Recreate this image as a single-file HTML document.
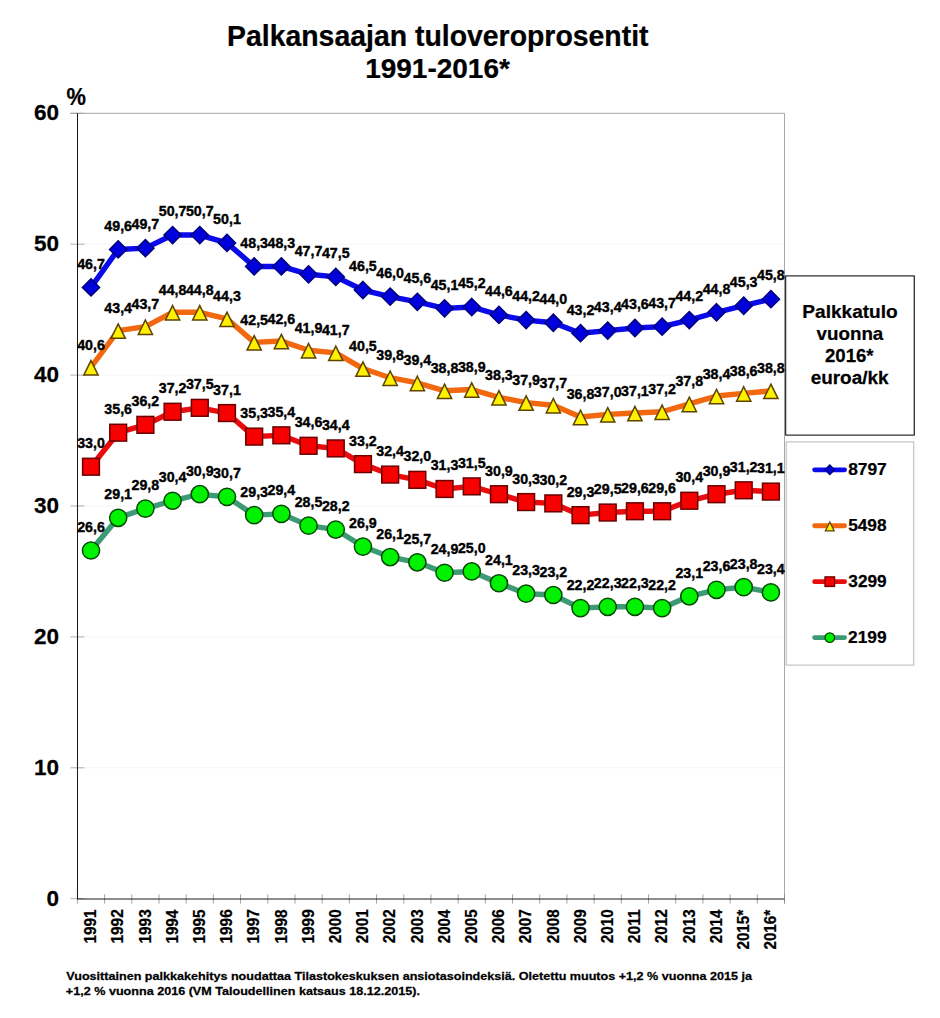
<!DOCTYPE html>
<html><head><meta charset="utf-8"><title>Palkansaajan tuloveroprosentit 1991-2016*</title>
<style>
html,body{margin:0;padding:0;background:#fff;}
body{width:940px;height:1018px;overflow:hidden;font-family:"Liberation Sans",sans-serif;}
svg{display:block;}
text{font-family:"Liberation Sans",sans-serif;font-weight:bold;fill:#000;stroke:#000;stroke-width:0.25px;stroke-linejoin:round;}
text.d{stroke-width:0.4px;}
</style></head><body>
<svg width="940" height="1018" viewBox="0 0 940 1018">
<rect width="940" height="1018" fill="#fff"/>
<text font-size="28.6" transform="translate(227.00 45.90) scale(0.9936 1)">Palkansaajan tuloveroprosentit</text>
<text font-size="28.3" transform="translate(365.14 78.00) scale(0.9894 1)">1991-2016*</text>
<line x1="77.4" x2="784.5" y1="767.80" y2="767.80" stroke="#f2f2f2" stroke-width="0.8"/>
<line x1="77.4" x2="784.5" y1="636.90" y2="636.90" stroke="#f2f2f2" stroke-width="0.8"/>
<line x1="77.4" x2="784.5" y1="506.00" y2="506.00" stroke="#f2f2f2" stroke-width="0.8"/>
<line x1="77.4" x2="784.5" y1="375.10" y2="375.10" stroke="#f2f2f2" stroke-width="0.8"/>
<line x1="77.4" x2="784.5" y1="244.20" y2="244.20" stroke="#f2f2f2" stroke-width="0.8"/>
<path d="M70.4 113.3H784.5V903.5" fill="none" stroke="#a8a8a8" stroke-width="1"/>
<line x1="70.4" x2="84.4" y1="898.70" y2="898.70" stroke="#9a9a9a" stroke-width="0.8"/>
<line x1="70.4" x2="84.4" y1="767.80" y2="767.80" stroke="#9a9a9a" stroke-width="0.8"/>
<line x1="70.4" x2="84.4" y1="636.90" y2="636.90" stroke="#9a9a9a" stroke-width="0.8"/>
<line x1="70.4" x2="84.4" y1="506.00" y2="506.00" stroke="#9a9a9a" stroke-width="0.8"/>
<line x1="70.4" x2="84.4" y1="375.10" y2="375.10" stroke="#9a9a9a" stroke-width="0.8"/>
<line x1="70.4" x2="84.4" y1="244.20" y2="244.20" stroke="#9a9a9a" stroke-width="0.8"/>
<line x1="70.4" x2="84.4" y1="113.30" y2="113.30" stroke="#9a9a9a" stroke-width="0.8"/>
<line x1="77.40" x2="77.40" y1="894.4" y2="903.6" stroke="#8c8c8c" stroke-width="0.8"/>
<line x1="104.60" x2="104.60" y1="894.4" y2="903.6" stroke="#8c8c8c" stroke-width="0.8"/>
<line x1="131.79" x2="131.79" y1="894.4" y2="903.6" stroke="#8c8c8c" stroke-width="0.8"/>
<line x1="158.99" x2="158.99" y1="894.4" y2="903.6" stroke="#8c8c8c" stroke-width="0.8"/>
<line x1="186.18" x2="186.18" y1="894.4" y2="903.6" stroke="#8c8c8c" stroke-width="0.8"/>
<line x1="213.38" x2="213.38" y1="894.4" y2="903.6" stroke="#8c8c8c" stroke-width="0.8"/>
<line x1="240.58" x2="240.58" y1="894.4" y2="903.6" stroke="#8c8c8c" stroke-width="0.8"/>
<line x1="267.77" x2="267.77" y1="894.4" y2="903.6" stroke="#8c8c8c" stroke-width="0.8"/>
<line x1="294.97" x2="294.97" y1="894.4" y2="903.6" stroke="#8c8c8c" stroke-width="0.8"/>
<line x1="322.17" x2="322.17" y1="894.4" y2="903.6" stroke="#8c8c8c" stroke-width="0.8"/>
<line x1="349.36" x2="349.36" y1="894.4" y2="903.6" stroke="#8c8c8c" stroke-width="0.8"/>
<line x1="376.56" x2="376.56" y1="894.4" y2="903.6" stroke="#8c8c8c" stroke-width="0.8"/>
<line x1="403.75" x2="403.75" y1="894.4" y2="903.6" stroke="#8c8c8c" stroke-width="0.8"/>
<line x1="430.95" x2="430.95" y1="894.4" y2="903.6" stroke="#8c8c8c" stroke-width="0.8"/>
<line x1="458.15" x2="458.15" y1="894.4" y2="903.6" stroke="#8c8c8c" stroke-width="0.8"/>
<line x1="485.34" x2="485.34" y1="894.4" y2="903.6" stroke="#8c8c8c" stroke-width="0.8"/>
<line x1="512.54" x2="512.54" y1="894.4" y2="903.6" stroke="#8c8c8c" stroke-width="0.8"/>
<line x1="539.73" x2="539.73" y1="894.4" y2="903.6" stroke="#8c8c8c" stroke-width="0.8"/>
<line x1="566.93" x2="566.93" y1="894.4" y2="903.6" stroke="#8c8c8c" stroke-width="0.8"/>
<line x1="594.13" x2="594.13" y1="894.4" y2="903.6" stroke="#8c8c8c" stroke-width="0.8"/>
<line x1="621.32" x2="621.32" y1="894.4" y2="903.6" stroke="#8c8c8c" stroke-width="0.8"/>
<line x1="648.52" x2="648.52" y1="894.4" y2="903.6" stroke="#8c8c8c" stroke-width="0.8"/>
<line x1="675.72" x2="675.72" y1="894.4" y2="903.6" stroke="#8c8c8c" stroke-width="0.8"/>
<line x1="702.91" x2="702.91" y1="894.4" y2="903.6" stroke="#8c8c8c" stroke-width="0.8"/>
<line x1="730.11" x2="730.11" y1="894.4" y2="903.6" stroke="#8c8c8c" stroke-width="0.8"/>
<line x1="757.30" x2="757.30" y1="894.4" y2="903.6" stroke="#8c8c8c" stroke-width="0.8"/>
<line x1="784.50" x2="784.50" y1="894.4" y2="903.6" stroke="#8c8c8c" stroke-width="0.8"/>
<path d="M77.5 113.3V899.0H784.5" fill="none" stroke="#1c1c1c" stroke-width="1.05"/>
<text font-size="23.2" transform="translate(66.45 105.00) scale(0.9413 1)">%</text>
<text font-size="22" transform="translate(46.50 905.70) scale(1.0243 1)">0</text>
<text font-size="22" transform="translate(33.97 774.80) scale(1.0243 1)">10</text>
<text font-size="22" transform="translate(33.97 643.90) scale(1.0243 1)">20</text>
<text font-size="22" transform="translate(33.97 513.00) scale(1.0243 1)">30</text>
<text font-size="22" transform="translate(33.97 382.10) scale(1.0243 1)">40</text>
<text font-size="22" transform="translate(33.97 251.20) scale(1.0243 1)">50</text>
<text font-size="22" transform="translate(33.97 120.30) scale(1.0243 1)">60</text>
<text font-size="15.6" transform="translate(96.30 943.57) rotate(-90) scale(0.9857 1)">1991</text>
<text font-size="15.6" transform="translate(123.49 943.57) rotate(-90) scale(0.9913 1)">1992</text>
<text font-size="15.6" transform="translate(150.69 943.57) rotate(-90) scale(0.9894 1)">1993</text>
<text font-size="15.6" transform="translate(177.89 943.56) rotate(-90) scale(0.9752 1)">1994</text>
<text font-size="15.6" transform="translate(205.08 943.57) rotate(-90) scale(0.9857 1)">1995</text>
<text font-size="15.6" transform="translate(232.28 943.57) rotate(-90) scale(0.9894 1)">1996</text>
<text font-size="15.6" transform="translate(259.48 943.58) rotate(-90) scale(0.9932 1)">1997</text>
<text font-size="15.6" transform="translate(286.67 943.57) rotate(-90) scale(0.9871 1)">1998</text>
<text font-size="15.6" transform="translate(313.87 943.57) rotate(-90) scale(0.9899 1)">1999</text>
<text font-size="15.6" transform="translate(341.06 943.13) rotate(-90) scale(0.9788 1)">2000</text>
<text font-size="15.6" transform="translate(368.26 943.13) rotate(-90) scale(0.9730 1)">2001</text>
<text font-size="15.6" transform="translate(395.46 943.13) rotate(-90) scale(0.9784 1)">2002</text>
<text font-size="15.6" transform="translate(422.65 943.13) rotate(-90) scale(0.9766 1)">2003</text>
<text font-size="15.6" transform="translate(449.85 943.13) rotate(-90) scale(0.9627 1)">2004</text>
<text font-size="15.6" transform="translate(477.04 943.13) rotate(-90) scale(0.9730 1)">2005</text>
<text font-size="15.6" transform="translate(504.24 943.13) rotate(-90) scale(0.9766 1)">2006</text>
<text font-size="15.6" transform="translate(531.44 943.14) rotate(-90) scale(0.9802 1)">2007</text>
<text font-size="15.6" transform="translate(558.63 943.13) rotate(-90) scale(0.9743 1)">2008</text>
<text font-size="15.6" transform="translate(585.83 943.13) rotate(-90) scale(0.9770 1)">2009</text>
<text font-size="15.6" transform="translate(613.02 943.13) rotate(-90) scale(0.9788 1)">2010</text>
<text font-size="15.6" transform="translate(640.22 943.15) rotate(-90) scale(0.9984 1)">2011</text>
<text font-size="15.6" transform="translate(667.42 943.13) rotate(-90) scale(0.9784 1)">2012</text>
<text font-size="15.6" transform="translate(694.61 943.13) rotate(-90) scale(0.9766 1)">2013</text>
<text font-size="15.6" transform="translate(721.81 943.13) rotate(-90) scale(0.9627 1)">2014</text>
<text font-size="15.6" transform="translate(749.01 949.53) rotate(-90) scale(0.9747 1)">2015*</text>
<text font-size="15.6" transform="translate(776.20 949.53) rotate(-90) scale(0.9747 1)">2016*</text>
<polyline points="91.00,287.40 118.19,249.44 145.39,248.13 172.59,235.04 199.78,235.04 226.98,242.89 254.18,266.45 281.37,266.45 308.57,274.31 335.76,276.92 362.96,290.01 390.16,296.56 417.35,301.80 444.55,308.34 471.74,307.03 498.94,314.89 526.14,320.12 553.33,322.74 580.53,333.21 607.73,330.59 634.92,327.98 662.12,326.67 689.31,320.12 716.51,312.27 743.71,305.72 770.90,299.18" fill="none" stroke="#0a0aea" stroke-width="5.4" stroke-linejoin="round"/>
<path d="M91.00 278.80L99.60 287.40L91.00 296.00L82.40 287.40Z" fill="#0000dc" stroke="#00007a" stroke-width="1.5"/>
<path d="M118.19 240.84L126.79 249.44L118.19 258.04L109.59 249.44Z" fill="#0000dc" stroke="#00007a" stroke-width="1.5"/>
<path d="M145.39 239.53L153.99 248.13L145.39 256.73L136.79 248.13Z" fill="#0000dc" stroke="#00007a" stroke-width="1.5"/>
<path d="M172.59 226.44L181.19 235.04L172.59 243.64L163.99 235.04Z" fill="#0000dc" stroke="#00007a" stroke-width="1.5"/>
<path d="M199.78 226.44L208.38 235.04L199.78 243.64L191.18 235.04Z" fill="#0000dc" stroke="#00007a" stroke-width="1.5"/>
<path d="M226.98 234.29L235.58 242.89L226.98 251.49L218.38 242.89Z" fill="#0000dc" stroke="#00007a" stroke-width="1.5"/>
<path d="M254.18 257.85L262.78 266.45L254.18 275.05L245.58 266.45Z" fill="#0000dc" stroke="#00007a" stroke-width="1.5"/>
<path d="M281.37 257.85L289.97 266.45L281.37 275.05L272.77 266.45Z" fill="#0000dc" stroke="#00007a" stroke-width="1.5"/>
<path d="M308.57 265.71L317.17 274.31L308.57 282.91L299.97 274.31Z" fill="#0000dc" stroke="#00007a" stroke-width="1.5"/>
<path d="M335.76 268.32L344.36 276.92L335.76 285.52L327.16 276.92Z" fill="#0000dc" stroke="#00007a" stroke-width="1.5"/>
<path d="M362.96 281.41L371.56 290.01L362.96 298.62L354.36 290.01Z" fill="#0000dc" stroke="#00007a" stroke-width="1.5"/>
<path d="M390.16 287.96L398.76 296.56L390.16 305.16L381.56 296.56Z" fill="#0000dc" stroke="#00007a" stroke-width="1.5"/>
<path d="M417.35 293.20L425.95 301.80L417.35 310.40L408.75 301.80Z" fill="#0000dc" stroke="#00007a" stroke-width="1.5"/>
<path d="M444.55 299.74L453.15 308.34L444.55 316.94L435.95 308.34Z" fill="#0000dc" stroke="#00007a" stroke-width="1.5"/>
<path d="M471.74 298.43L480.34 307.03L471.74 315.63L463.14 307.03Z" fill="#0000dc" stroke="#00007a" stroke-width="1.5"/>
<path d="M498.94 306.29L507.54 314.89L498.94 323.49L490.34 314.89Z" fill="#0000dc" stroke="#00007a" stroke-width="1.5"/>
<path d="M526.14 311.52L534.74 320.12L526.14 328.72L517.54 320.12Z" fill="#0000dc" stroke="#00007a" stroke-width="1.5"/>
<path d="M553.33 314.14L561.93 322.74L553.33 331.34L544.73 322.74Z" fill="#0000dc" stroke="#00007a" stroke-width="1.5"/>
<path d="M580.53 324.61L589.13 333.21L580.53 341.81L571.93 333.21Z" fill="#0000dc" stroke="#00007a" stroke-width="1.5"/>
<path d="M607.73 321.99L616.33 330.59L607.73 339.19L599.12 330.59Z" fill="#0000dc" stroke="#00007a" stroke-width="1.5"/>
<path d="M634.92 319.38L643.52 327.98L634.92 336.58L626.32 327.98Z" fill="#0000dc" stroke="#00007a" stroke-width="1.5"/>
<path d="M662.12 318.07L670.72 326.67L662.12 335.27L653.52 326.67Z" fill="#0000dc" stroke="#00007a" stroke-width="1.5"/>
<path d="M689.31 311.52L697.91 320.12L689.31 328.72L680.71 320.12Z" fill="#0000dc" stroke="#00007a" stroke-width="1.5"/>
<path d="M716.51 303.67L725.11 312.27L716.51 320.87L707.91 312.27Z" fill="#0000dc" stroke="#00007a" stroke-width="1.5"/>
<path d="M743.71 297.12L752.31 305.72L743.71 314.32L735.11 305.72Z" fill="#0000dc" stroke="#00007a" stroke-width="1.5"/>
<path d="M770.90 290.58L779.50 299.18L770.90 307.78L762.30 299.18Z" fill="#0000dc" stroke="#00007a" stroke-width="1.5"/>
<polyline points="91.00,367.25 118.19,330.59 145.39,326.67 172.59,312.27 199.78,312.27 226.98,318.81 254.18,342.38 281.37,341.07 308.57,350.23 335.76,352.85 362.96,368.55 390.16,377.72 417.35,382.95 444.55,390.81 471.74,389.50 498.94,397.35 526.14,402.59 553.33,405.21 580.53,416.99 607.73,414.37 634.92,413.06 662.12,411.75 689.31,403.90 716.51,396.04 743.71,393.43 770.90,390.81" fill="none" stroke="#f2680f" stroke-width="5.4" stroke-linejoin="round"/>
<path d="M91.00 360.55L98.12 374.99L83.87 374.99Z" fill="#fff000" stroke="#5e4200" stroke-width="1.5" stroke-linejoin="miter"/>
<path d="M118.19 323.90L125.32 338.34L111.07 338.34Z" fill="#fff000" stroke="#5e4200" stroke-width="1.5" stroke-linejoin="miter"/>
<path d="M145.39 319.97L152.52 334.41L138.27 334.41Z" fill="#fff000" stroke="#5e4200" stroke-width="1.5" stroke-linejoin="miter"/>
<path d="M172.59 305.57L179.71 320.02L165.46 320.02Z" fill="#fff000" stroke="#5e4200" stroke-width="1.5" stroke-linejoin="miter"/>
<path d="M199.78 305.57L206.91 320.02L192.66 320.02Z" fill="#fff000" stroke="#5e4200" stroke-width="1.5" stroke-linejoin="miter"/>
<path d="M226.98 312.12L234.10 326.56L219.85 326.56Z" fill="#fff000" stroke="#5e4200" stroke-width="1.5" stroke-linejoin="miter"/>
<path d="M254.18 335.68L261.30 350.12L247.05 350.12Z" fill="#fff000" stroke="#5e4200" stroke-width="1.5" stroke-linejoin="miter"/>
<path d="M281.37 334.37L288.50 348.81L274.25 348.81Z" fill="#fff000" stroke="#5e4200" stroke-width="1.5" stroke-linejoin="miter"/>
<path d="M308.57 343.53L315.69 357.98L301.44 357.98Z" fill="#fff000" stroke="#5e4200" stroke-width="1.5" stroke-linejoin="miter"/>
<path d="M335.76 346.15L342.89 360.59L328.64 360.59Z" fill="#fff000" stroke="#5e4200" stroke-width="1.5" stroke-linejoin="miter"/>
<path d="M362.96 361.86L370.08 376.30L355.83 376.30Z" fill="#fff000" stroke="#5e4200" stroke-width="1.5" stroke-linejoin="miter"/>
<path d="M390.16 371.02L397.28 385.47L383.03 385.47Z" fill="#fff000" stroke="#5e4200" stroke-width="1.5" stroke-linejoin="miter"/>
<path d="M417.35 376.26L424.48 390.70L410.23 390.70Z" fill="#fff000" stroke="#5e4200" stroke-width="1.5" stroke-linejoin="miter"/>
<path d="M444.55 384.11L451.67 398.56L437.42 398.56Z" fill="#fff000" stroke="#5e4200" stroke-width="1.5" stroke-linejoin="miter"/>
<path d="M471.74 382.80L478.87 397.25L464.62 397.25Z" fill="#fff000" stroke="#5e4200" stroke-width="1.5" stroke-linejoin="miter"/>
<path d="M498.94 390.66L506.07 405.10L491.82 405.10Z" fill="#fff000" stroke="#5e4200" stroke-width="1.5" stroke-linejoin="miter"/>
<path d="M526.14 395.89L533.26 410.34L519.01 410.34Z" fill="#fff000" stroke="#5e4200" stroke-width="1.5" stroke-linejoin="miter"/>
<path d="M553.33 398.51L560.46 412.95L546.21 412.95Z" fill="#fff000" stroke="#5e4200" stroke-width="1.5" stroke-linejoin="miter"/>
<path d="M580.53 410.29L587.65 424.74L573.40 424.74Z" fill="#fff000" stroke="#5e4200" stroke-width="1.5" stroke-linejoin="miter"/>
<path d="M607.73 407.67L614.85 422.12L600.60 422.12Z" fill="#fff000" stroke="#5e4200" stroke-width="1.5" stroke-linejoin="miter"/>
<path d="M634.92 406.36L642.05 420.81L627.80 420.81Z" fill="#fff000" stroke="#5e4200" stroke-width="1.5" stroke-linejoin="miter"/>
<path d="M662.12 405.05L669.24 419.50L654.99 419.50Z" fill="#fff000" stroke="#5e4200" stroke-width="1.5" stroke-linejoin="miter"/>
<path d="M689.31 397.20L696.44 411.65L682.19 411.65Z" fill="#fff000" stroke="#5e4200" stroke-width="1.5" stroke-linejoin="miter"/>
<path d="M716.51 389.35L723.63 403.79L709.38 403.79Z" fill="#fff000" stroke="#5e4200" stroke-width="1.5" stroke-linejoin="miter"/>
<path d="M743.71 386.73L750.83 401.17L736.58 401.17Z" fill="#fff000" stroke="#5e4200" stroke-width="1.5" stroke-linejoin="miter"/>
<path d="M770.90 384.11L778.03 398.56L763.78 398.56Z" fill="#fff000" stroke="#5e4200" stroke-width="1.5" stroke-linejoin="miter"/>
<polyline points="91.00,466.73 118.19,432.70 145.39,424.84 172.59,411.75 199.78,407.82 226.98,413.06 254.18,436.62 281.37,435.31 308.57,445.79 335.76,448.40 362.96,464.11 390.16,474.58 417.35,479.82 444.55,488.98 471.74,486.37 498.94,494.22 526.14,502.07 553.33,503.38 580.53,515.16 607.73,512.55 634.92,511.24 662.12,511.24 689.31,500.76 716.51,494.22 743.71,490.29 770.90,491.60" fill="none" stroke="#ea0c0c" stroke-width="5.4" stroke-linejoin="round"/>
<rect x="82.60" y="458.33" width="16.80" height="16.80" fill="#f60000" stroke="#6a0000" stroke-width="1.5"/>
<rect x="109.79" y="424.30" width="16.80" height="16.80" fill="#f60000" stroke="#6a0000" stroke-width="1.5"/>
<rect x="136.99" y="416.44" width="16.80" height="16.80" fill="#f60000" stroke="#6a0000" stroke-width="1.5"/>
<rect x="164.19" y="403.35" width="16.80" height="16.80" fill="#f60000" stroke="#6a0000" stroke-width="1.5"/>
<rect x="191.38" y="399.43" width="16.80" height="16.80" fill="#f60000" stroke="#6a0000" stroke-width="1.5"/>
<rect x="218.58" y="404.66" width="16.80" height="16.80" fill="#f60000" stroke="#6a0000" stroke-width="1.5"/>
<rect x="245.78" y="428.22" width="16.80" height="16.80" fill="#f60000" stroke="#6a0000" stroke-width="1.5"/>
<rect x="272.97" y="426.91" width="16.80" height="16.80" fill="#f60000" stroke="#6a0000" stroke-width="1.5"/>
<rect x="300.17" y="437.39" width="16.80" height="16.80" fill="#f60000" stroke="#6a0000" stroke-width="1.5"/>
<rect x="327.36" y="440.00" width="16.80" height="16.80" fill="#f60000" stroke="#6a0000" stroke-width="1.5"/>
<rect x="354.56" y="455.71" width="16.80" height="16.80" fill="#f60000" stroke="#6a0000" stroke-width="1.5"/>
<rect x="381.76" y="466.18" width="16.80" height="16.80" fill="#f60000" stroke="#6a0000" stroke-width="1.5"/>
<rect x="408.95" y="471.42" width="16.80" height="16.80" fill="#f60000" stroke="#6a0000" stroke-width="1.5"/>
<rect x="436.15" y="480.58" width="16.80" height="16.80" fill="#f60000" stroke="#6a0000" stroke-width="1.5"/>
<rect x="463.34" y="477.97" width="16.80" height="16.80" fill="#f60000" stroke="#6a0000" stroke-width="1.5"/>
<rect x="490.54" y="485.82" width="16.80" height="16.80" fill="#f60000" stroke="#6a0000" stroke-width="1.5"/>
<rect x="517.74" y="493.67" width="16.80" height="16.80" fill="#f60000" stroke="#6a0000" stroke-width="1.5"/>
<rect x="544.93" y="494.98" width="16.80" height="16.80" fill="#f60000" stroke="#6a0000" stroke-width="1.5"/>
<rect x="572.13" y="506.76" width="16.80" height="16.80" fill="#f60000" stroke="#6a0000" stroke-width="1.5"/>
<rect x="599.33" y="504.15" width="16.80" height="16.80" fill="#f60000" stroke="#6a0000" stroke-width="1.5"/>
<rect x="626.52" y="502.84" width="16.80" height="16.80" fill="#f60000" stroke="#6a0000" stroke-width="1.5"/>
<rect x="653.72" y="502.84" width="16.80" height="16.80" fill="#f60000" stroke="#6a0000" stroke-width="1.5"/>
<rect x="680.91" y="492.36" width="16.80" height="16.80" fill="#f60000" stroke="#6a0000" stroke-width="1.5"/>
<rect x="708.11" y="485.82" width="16.80" height="16.80" fill="#f60000" stroke="#6a0000" stroke-width="1.5"/>
<rect x="735.31" y="481.89" width="16.80" height="16.80" fill="#f60000" stroke="#6a0000" stroke-width="1.5"/>
<rect x="762.50" y="483.20" width="16.80" height="16.80" fill="#f60000" stroke="#6a0000" stroke-width="1.5"/>
<polyline points="91.00,550.51 118.19,517.78 145.39,508.62 172.59,500.76 199.78,494.22 226.98,496.84 254.18,515.16 281.37,513.85 308.57,525.63 335.76,529.56 362.96,546.58 390.16,557.05 417.35,562.29 444.55,572.76 471.74,571.45 498.94,583.23 526.14,593.70 553.33,595.01 580.53,608.10 607.73,606.79 634.92,606.79 662.12,608.10 689.31,596.32 716.51,589.78 743.71,587.16 770.90,592.39" fill="none" stroke="#3c9a75" stroke-width="5.4" stroke-linejoin="round"/>
<circle cx="91.00" cy="550.51" r="8.60" fill="#00f200" stroke="#004a00" stroke-width="1.5"/>
<circle cx="118.19" cy="517.78" r="8.60" fill="#00f200" stroke="#004a00" stroke-width="1.5"/>
<circle cx="145.39" cy="508.62" r="8.60" fill="#00f200" stroke="#004a00" stroke-width="1.5"/>
<circle cx="172.59" cy="500.76" r="8.60" fill="#00f200" stroke="#004a00" stroke-width="1.5"/>
<circle cx="199.78" cy="494.22" r="8.60" fill="#00f200" stroke="#004a00" stroke-width="1.5"/>
<circle cx="226.98" cy="496.84" r="8.60" fill="#00f200" stroke="#004a00" stroke-width="1.5"/>
<circle cx="254.18" cy="515.16" r="8.60" fill="#00f200" stroke="#004a00" stroke-width="1.5"/>
<circle cx="281.37" cy="513.85" r="8.60" fill="#00f200" stroke="#004a00" stroke-width="1.5"/>
<circle cx="308.57" cy="525.63" r="8.60" fill="#00f200" stroke="#004a00" stroke-width="1.5"/>
<circle cx="335.76" cy="529.56" r="8.60" fill="#00f200" stroke="#004a00" stroke-width="1.5"/>
<circle cx="362.96" cy="546.58" r="8.60" fill="#00f200" stroke="#004a00" stroke-width="1.5"/>
<circle cx="390.16" cy="557.05" r="8.60" fill="#00f200" stroke="#004a00" stroke-width="1.5"/>
<circle cx="417.35" cy="562.29" r="8.60" fill="#00f200" stroke="#004a00" stroke-width="1.5"/>
<circle cx="444.55" cy="572.76" r="8.60" fill="#00f200" stroke="#004a00" stroke-width="1.5"/>
<circle cx="471.74" cy="571.45" r="8.60" fill="#00f200" stroke="#004a00" stroke-width="1.5"/>
<circle cx="498.94" cy="583.23" r="8.60" fill="#00f200" stroke="#004a00" stroke-width="1.5"/>
<circle cx="526.14" cy="593.70" r="8.60" fill="#00f200" stroke="#004a00" stroke-width="1.5"/>
<circle cx="553.33" cy="595.01" r="8.60" fill="#00f200" stroke="#004a00" stroke-width="1.5"/>
<circle cx="580.53" cy="608.10" r="8.60" fill="#00f200" stroke="#004a00" stroke-width="1.5"/>
<circle cx="607.73" cy="606.79" r="8.60" fill="#00f200" stroke="#004a00" stroke-width="1.5"/>
<circle cx="634.92" cy="606.79" r="8.60" fill="#00f200" stroke="#004a00" stroke-width="1.5"/>
<circle cx="662.12" cy="608.10" r="8.60" fill="#00f200" stroke="#004a00" stroke-width="1.5"/>
<circle cx="689.31" cy="596.32" r="8.60" fill="#00f200" stroke="#004a00" stroke-width="1.5"/>
<circle cx="716.51" cy="589.78" r="8.60" fill="#00f200" stroke="#004a00" stroke-width="1.5"/>
<circle cx="743.71" cy="587.16" r="8.60" fill="#00f200" stroke="#004a00" stroke-width="1.5"/>
<circle cx="770.90" cy="592.39" r="8.60" fill="#00f200" stroke="#004a00" stroke-width="1.5"/>
<text class="d" font-size="15.0" transform="translate(77.13 268.70) scale(0.9499 1)">46,7</text>
<text class="d" font-size="15.0" transform="translate(104.33 230.74) scale(0.9499 1)">49,6</text>
<text class="d" font-size="15.0" transform="translate(131.52 229.43) scale(0.9499 1)">49,7</text>
<text class="d" font-size="15.0" transform="translate(158.72 216.34) scale(0.9499 1)">50,7</text>
<text class="d" font-size="15.0" transform="translate(185.92 216.34) scale(0.9499 1)">50,7</text>
<text class="d" font-size="15.0" transform="translate(213.11 224.19) scale(0.9499 1)">50,1</text>
<text class="d" font-size="15.0" transform="translate(240.31 247.75) scale(0.9499 1)">48,3</text>
<text class="d" font-size="15.0" transform="translate(267.51 247.75) scale(0.9499 1)">48,3</text>
<text class="d" font-size="15.0" transform="translate(294.70 255.61) scale(0.9499 1)">47,7</text>
<text class="d" font-size="15.0" transform="translate(321.90 258.22) scale(0.9499 1)">47,5</text>
<text class="d" font-size="15.0" transform="translate(349.09 271.31) scale(0.9499 1)">46,5</text>
<text class="d" font-size="15.0" transform="translate(376.29 277.86) scale(0.9499 1)">46,0</text>
<text class="d" font-size="15.0" transform="translate(403.49 283.10) scale(0.9499 1)">45,6</text>
<text class="d" font-size="15.0" transform="translate(430.68 289.64) scale(0.9499 1)">45,1</text>
<text class="d" font-size="15.0" transform="translate(457.88 288.33) scale(0.9499 1)">45,2</text>
<text class="d" font-size="15.0" transform="translate(485.07 296.19) scale(0.9499 1)">44,6</text>
<text class="d" font-size="15.0" transform="translate(512.27 301.42) scale(0.9499 1)">44,2</text>
<text class="d" font-size="15.0" transform="translate(539.47 304.04) scale(0.9499 1)">44,0</text>
<text class="d" font-size="15.0" transform="translate(566.66 314.51) scale(0.9499 1)">43,2</text>
<text class="d" font-size="15.0" transform="translate(593.86 311.89) scale(0.9499 1)">43,4</text>
<text class="d" font-size="15.0" transform="translate(621.06 309.28) scale(0.9499 1)">43,6</text>
<text class="d" font-size="15.0" transform="translate(648.25 307.97) scale(0.9499 1)">43,7</text>
<text class="d" font-size="15.0" transform="translate(675.45 301.42) scale(0.9499 1)">44,2</text>
<text class="d" font-size="15.0" transform="translate(702.64 293.57) scale(0.9499 1)">44,8</text>
<text class="d" font-size="15.0" transform="translate(729.84 287.02) scale(0.9499 1)">45,3</text>
<text class="d" font-size="15.0" transform="translate(757.04 280.48) scale(0.9499 1)">45,8</text>
<text class="d" font-size="15.0" transform="translate(77.13 349.75) scale(0.9499 1)">40,6</text>
<text class="d" font-size="15.0" transform="translate(104.33 313.09) scale(0.9499 1)">43,4</text>
<text class="d" font-size="15.0" transform="translate(131.52 309.17) scale(0.9499 1)">43,7</text>
<text class="d" font-size="15.0" transform="translate(158.72 294.77) scale(0.9499 1)">44,8</text>
<text class="d" font-size="15.0" transform="translate(185.92 294.77) scale(0.9499 1)">44,8</text>
<text class="d" font-size="15.0" transform="translate(213.11 301.31) scale(0.9499 1)">44,3</text>
<text class="d" font-size="15.0" transform="translate(240.31 324.88) scale(0.9499 1)">42,5</text>
<text class="d" font-size="15.0" transform="translate(267.51 323.57) scale(0.9499 1)">42,6</text>
<text class="d" font-size="15.0" transform="translate(294.70 332.73) scale(0.9499 1)">41,9</text>
<text class="d" font-size="15.0" transform="translate(321.90 335.35) scale(0.9499 1)">41,7</text>
<text class="d" font-size="15.0" transform="translate(349.09 351.05) scale(0.9499 1)">40,5</text>
<text class="d" font-size="15.0" transform="translate(376.29 360.22) scale(0.9499 1)">39,8</text>
<text class="d" font-size="15.0" transform="translate(403.49 365.45) scale(0.9499 1)">39,4</text>
<text class="d" font-size="15.0" transform="translate(430.68 373.31) scale(0.9499 1)">38,8</text>
<text class="d" font-size="15.0" transform="translate(457.88 372.00) scale(0.9499 1)">38,9</text>
<text class="d" font-size="15.0" transform="translate(485.07 379.85) scale(0.9499 1)">38,3</text>
<text class="d" font-size="15.0" transform="translate(512.27 385.09) scale(0.9499 1)">37,9</text>
<text class="d" font-size="15.0" transform="translate(539.47 387.71) scale(0.9499 1)">37,7</text>
<text class="d" font-size="15.0" transform="translate(566.66 399.49) scale(0.9499 1)">36,8</text>
<text class="d" font-size="15.0" transform="translate(593.86 396.87) scale(0.9499 1)">37,0</text>
<text class="d" font-size="15.0" transform="translate(621.06 395.56) scale(0.9499 1)">37,1</text>
<text class="d" font-size="15.0" transform="translate(648.25 394.25) scale(0.9499 1)">37,2</text>
<text class="d" font-size="15.0" transform="translate(675.45 386.40) scale(0.9499 1)">37,8</text>
<text class="d" font-size="15.0" transform="translate(702.64 378.54) scale(0.9499 1)">38,4</text>
<text class="d" font-size="15.0" transform="translate(729.84 375.93) scale(0.9499 1)">38,6</text>
<text class="d" font-size="15.0" transform="translate(757.04 373.31) scale(0.9499 1)">38,8</text>
<text class="d" font-size="15.0" transform="translate(77.13 448.23) scale(0.9499 1)">33,0</text>
<text class="d" font-size="15.0" transform="translate(104.33 414.20) scale(0.9499 1)">35,6</text>
<text class="d" font-size="15.0" transform="translate(131.52 406.34) scale(0.9499 1)">36,2</text>
<text class="d" font-size="15.0" transform="translate(158.72 393.25) scale(0.9499 1)">37,2</text>
<text class="d" font-size="15.0" transform="translate(185.92 389.32) scale(0.9499 1)">37,5</text>
<text class="d" font-size="15.0" transform="translate(213.11 394.56) scale(0.9499 1)">37,1</text>
<text class="d" font-size="15.0" transform="translate(240.31 418.12) scale(0.9499 1)">35,3</text>
<text class="d" font-size="15.0" transform="translate(267.51 416.81) scale(0.9499 1)">35,4</text>
<text class="d" font-size="15.0" transform="translate(294.70 427.29) scale(0.9499 1)">34,6</text>
<text class="d" font-size="15.0" transform="translate(321.90 429.90) scale(0.9499 1)">34,4</text>
<text class="d" font-size="15.0" transform="translate(349.09 445.61) scale(0.9499 1)">33,2</text>
<text class="d" font-size="15.0" transform="translate(376.29 456.08) scale(0.9499 1)">32,4</text>
<text class="d" font-size="15.0" transform="translate(403.49 461.32) scale(0.9499 1)">32,0</text>
<text class="d" font-size="15.0" transform="translate(430.68 470.48) scale(0.9499 1)">31,3</text>
<text class="d" font-size="15.0" transform="translate(457.88 467.87) scale(0.9499 1)">31,5</text>
<text class="d" font-size="15.0" transform="translate(485.07 475.72) scale(0.9499 1)">30,9</text>
<text class="d" font-size="15.0" transform="translate(512.27 483.57) scale(0.9499 1)">30,3</text>
<text class="d" font-size="15.0" transform="translate(539.47 484.88) scale(0.9499 1)">30,2</text>
<text class="d" font-size="15.0" transform="translate(566.66 496.66) scale(0.9499 1)">29,3</text>
<text class="d" font-size="15.0" transform="translate(593.86 494.05) scale(0.9499 1)">29,5</text>
<text class="d" font-size="15.0" transform="translate(621.06 492.74) scale(0.9499 1)">29,6</text>
<text class="d" font-size="15.0" transform="translate(648.25 492.74) scale(0.9499 1)">29,6</text>
<text class="d" font-size="15.0" transform="translate(675.45 482.26) scale(0.9499 1)">30,4</text>
<text class="d" font-size="15.0" transform="translate(702.64 475.72) scale(0.9499 1)">30,9</text>
<text class="d" font-size="15.0" transform="translate(729.84 471.79) scale(0.9499 1)">31,2</text>
<text class="d" font-size="15.0" transform="translate(757.04 473.10) scale(0.9499 1)">31,1</text>
<text class="d" font-size="15.0" transform="translate(77.13 532.01) scale(0.9499 1)">26,6</text>
<text class="d" font-size="15.0" transform="translate(104.33 499.28) scale(0.9499 1)">29,1</text>
<text class="d" font-size="15.0" transform="translate(131.52 490.12) scale(0.9499 1)">29,8</text>
<text class="d" font-size="15.0" transform="translate(158.72 482.26) scale(0.9499 1)">30,4</text>
<text class="d" font-size="15.0" transform="translate(185.92 475.72) scale(0.9499 1)">30,9</text>
<text class="d" font-size="15.0" transform="translate(213.11 478.34) scale(0.9499 1)">30,7</text>
<text class="d" font-size="15.0" transform="translate(240.31 496.66) scale(0.9499 1)">29,3</text>
<text class="d" font-size="15.0" transform="translate(267.51 495.35) scale(0.9499 1)">29,4</text>
<text class="d" font-size="15.0" transform="translate(294.70 507.13) scale(0.9499 1)">28,5</text>
<text class="d" font-size="15.0" transform="translate(321.90 511.06) scale(0.9499 1)">28,2</text>
<text class="d" font-size="15.0" transform="translate(349.09 528.08) scale(0.9499 1)">26,9</text>
<text class="d" font-size="15.0" transform="translate(376.29 538.55) scale(0.9499 1)">26,1</text>
<text class="d" font-size="15.0" transform="translate(403.49 543.79) scale(0.9499 1)">25,7</text>
<text class="d" font-size="15.0" transform="translate(430.68 554.26) scale(0.9499 1)">24,9</text>
<text class="d" font-size="15.0" transform="translate(457.88 552.95) scale(0.9499 1)">25,0</text>
<text class="d" font-size="15.0" transform="translate(485.07 564.73) scale(0.9499 1)">24,1</text>
<text class="d" font-size="15.0" transform="translate(512.27 575.20) scale(0.9499 1)">23,3</text>
<text class="d" font-size="15.0" transform="translate(539.47 576.51) scale(0.9499 1)">23,2</text>
<text class="d" font-size="15.0" transform="translate(566.66 589.60) scale(0.9499 1)">22,2</text>
<text class="d" font-size="15.0" transform="translate(593.86 588.29) scale(0.9499 1)">22,3</text>
<text class="d" font-size="15.0" transform="translate(621.06 588.29) scale(0.9499 1)">22,3</text>
<text class="d" font-size="15.0" transform="translate(648.25 589.60) scale(0.9499 1)">22,2</text>
<text class="d" font-size="15.0" transform="translate(675.45 577.82) scale(0.9499 1)">23,1</text>
<text class="d" font-size="15.0" transform="translate(702.64 571.28) scale(0.9499 1)">23,6</text>
<text class="d" font-size="15.0" transform="translate(729.84 568.66) scale(0.9499 1)">23,8</text>
<text class="d" font-size="15.0" transform="translate(757.04 573.89) scale(0.9499 1)">23,4</text>
<rect x="785.6" y="275.9" width="128.7" height="159.2" fill="#fff" stroke="#333" stroke-width="1.35" stroke-linejoin="round"/>
<text font-size="19.2" transform="translate(802.32 318.35) scale(0.9936 1)">Palkkatulo</text>
<text font-size="19.2" transform="translate(816.62 340.35) scale(0.9778 1)">vuonna</text>
<text font-size="19.2" transform="translate(824.95 362.35) scale(0.9697 1)">2016*</text>
<text font-size="19.2" transform="translate(810.66 384.35) scale(0.9867 1)">euroa/kk</text>
<rect x="786.2" y="441.9" width="127.5" height="223.2" fill="#fff" stroke="#bdbdbd" stroke-width="1.1"/>
<line x1="814.6" x2="844.6" y1="469.80" y2="469.80" stroke="#0a0aea" stroke-width="4.8" stroke-linecap="round"/>
<path d="M829.80 465.00L834.60 469.80L829.80 474.60L825.00 469.80Z" fill="#0000dc" stroke="#00007a" stroke-width="1.3"/>
<text font-size="17" transform="translate(848.14 475.10) scale(1.0215 1)">8797</text>
<line x1="814.6" x2="844.6" y1="525.73" y2="525.73" stroke="#f2680f" stroke-width="4.8" stroke-linecap="round"/>
<path d="M829.80 521.92L834.17 530.78L825.43 530.78Z" fill="#fff000" stroke="#5e4200" stroke-width="1.3" stroke-linejoin="miter"/>
<text font-size="17" transform="translate(848.17 531.03) scale(1.0149 1)">5498</text>
<line x1="814.6" x2="844.6" y1="581.66" y2="581.66" stroke="#ea0c0c" stroke-width="4.8" stroke-linecap="round"/>
<rect x="825.00" y="576.86" width="9.60" height="9.60" fill="#f60000" stroke="#6a0000" stroke-width="1.3"/>
<text font-size="17" transform="translate(848.30 586.96) scale(1.0139 1)">3299</text>
<line x1="814.6" x2="844.6" y1="637.59" y2="637.59" stroke="#3c9a75" stroke-width="4.8" stroke-linecap="round"/>
<circle cx="829.80" cy="637.59" r="4.80" fill="#00f200" stroke="#004a00" stroke-width="1.3"/>
<text font-size="17" transform="translate(848.09 642.89) scale(1.0196 1)">2199</text>
<text font-size="11.3" transform="translate(66.31 979.60) scale(1.1148 1)">Vuosittainen palkkakehitys noudattaa Tilastokeskuksen ansiotasoindeksiä. Oletettu muutos +1,2 % vuonna 2015 ja</text>
<text font-size="11.3" transform="translate(65.87 994.50) scale(1.1154 1)">+1,2 % vuonna 2016 (VM Taloudellinen katsaus 18.12.2015).</text>
</svg></body></html>
